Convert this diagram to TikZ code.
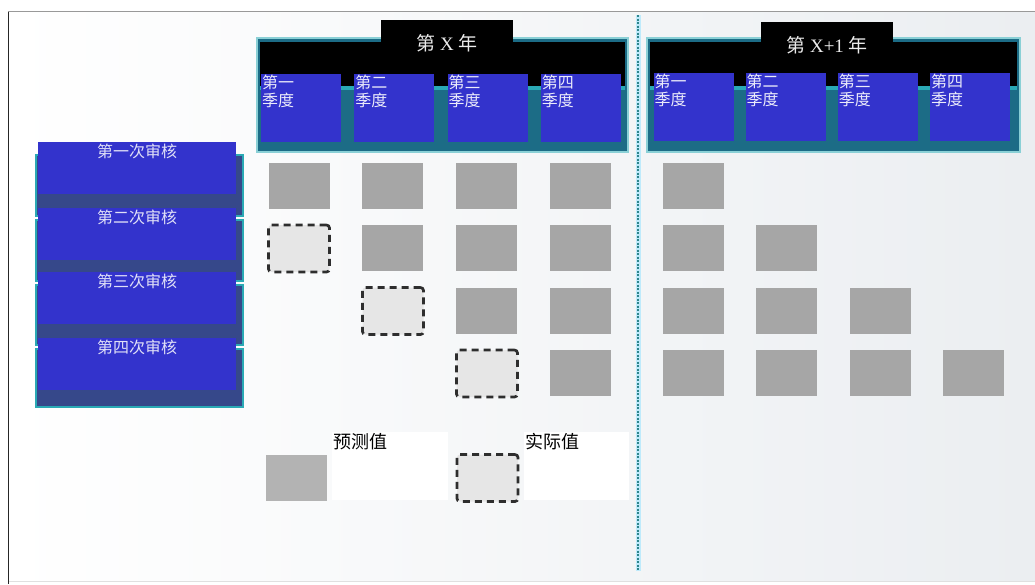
\documentclass[tikz,border=0pt]{standalone}
\usepackage{fontspec}
\setmainfont{Liberation Serif}
\newfontfamily\cjk{Noto Sans CJK SC}
\usetikzlibrary{positioning}
\definecolor{qblue}{HTML}{3333CC}
\definecolor{rowblue}{HTML}{36488A}
\definecolor{frameteal}{HTML}{2AA9B5}
\definecolor{hdrdark}{HTML}{1C6C86}
\definecolor{fcgray}{HTML}{A6A6A6}
\definecolor{leggray}{HTML}{B3B3B3}
\definecolor{actfill}{HTML}{E6E6E6}
\definecolor{dashgray}{HTML}{2E2E2E}
\definecolor{dotteal}{HTML}{3AA6AE}
\definecolor{bgright}{HTML}{EBEEF1}
\tikzset{
  qbox/.style={fill=qblue, minimum width=80pt, minimum height=68pt, inner sep=0pt},
  qlabel/.style={font=\cjk\fontsize{16}{18}\selectfont, text=white!90!qblue,
                 align=left, inner sep=1pt, anchor=north west},
  revbox/.style={fill=qblue, minimum width=198pt, minimum height=52pt, inner sep=0pt},
  revlabel/.style={font=\cjk\fontsize{16}{18}\selectfont, text=white!85!qblue,
                   inner sep=2pt, anchor=north},
  titlebox/.style={fill=black, text=white!92!black, minimum width=132pt,
                   minimum height=47pt, font=\fontsize{19}{21}\selectfont},
  fcast/.style={fill=fcgray, minimum width=61pt, minimum height=46pt, inner sep=0pt},
  actual/.style={fill=actfill, draw=dashgray, line width=2.7pt, dash pattern=on 7pt off 5pt,
                 rounded corners=3pt, minimum width=61pt, minimum height=47pt, inner sep=0pt},
  legbox/.style={fill=white, minimum height=68pt, inner sep=0pt},
  legtext/.style={font=\cjk\fontsize{18}{20}\selectfont, text=black, inner sep=1pt, anchor=north west}
}
\begin{document}
\begin{tikzpicture}[x=1pt,y=-1pt]
  \useasboundingbox (0,0) rectangle (1035,584);
  % page
  \shade[left color=white, middle color=white!96!black, right color=bgright] (9,12) rectangle (1035,581);
  \draw[black!85, line width=1.5pt] (8.5,11) -- (8.5,584);
  \draw[black!40, line width=1pt] (8,11.5) -- (1035,11.5);
  \draw[black!12, line width=1pt] (9,581.5) -- (1035,581.5);
  % divider
  \coordinate (divtop) at (638,15);
  \coordinate (divbot) at (638,571);
  \draw[cyan!25, line width=5pt] (divtop) -- (divbot);
  \draw[dotteal!80!black, line width=2.5pt, dash pattern=on 2pt off 1.5pt] (divtop) -- (divbot);
  % year headers
  \foreach \fx/\fy in {257/628, 647/1020}{%
    \filldraw[fill=hdrdark, draw=frameteal!55!white, line width=2pt] (\fx,38) rectangle (\fy,152);
    \fill[black] (\fx+3,42) rectangle (\fy-3,86);
    \fill[frameteal] (\fx+3,86) rectangle (\fy-3,90);
  }
  \node[titlebox] (yearX) at (447,43.5) {{\cjk 第}~X~{\cjk 年}\hspace{20pt}};
  \node[titlebox] (yearY) at (827,45) {{\cjk 第}~X+1~{\cjk 年}\hspace{4pt}};
  \foreach \q [count=\i] in {一,二,三,四}{%
    \node[qbox] (qX-\i) at ({301+(\i-1)*93.3},108) {};
    \node[qlabel] (qXl-\i) at (qX-\i.north west) {第\q\\季度};
    \node[qbox] (qY-\i) at ({693.5+(\i-1)*92.2},107) {};
    \node[qlabel] (qYl-\i) at (qY-\i.north west) {第\q\\季度};
  }
  % review rows
  \foreach \ra/\rb in {155/216, 220/281, 285/345, 349/407}{%
    \filldraw[fill=rowblue, draw=frameteal, line width=1.5pt] (36,\ra) rectangle (243,\rb);
  }
  \foreach \r [count=\i] in {一,二,三,四}{%
    \pgfmathparse{{168,234,298,364}[\i-1]}
    \node[revbox] (rev-\i) at (137,\pgfmathresult) {};
    \node[revlabel] (revl-\i) at (rev-\i.north) {第\r 次审核};
  }
  % forecasts and actuals
  \foreach \r in {1,...,4}{%
    \foreach \c in {\r,...,4}{%
      \node[fcast] (L-\r-\c) at ({299+(\c-1)*93.7},{186+(\r-1)*62.3}) {};
    }
    \foreach \c in {1,...,\r}{%
      \node[fcast] (R-\r-\c) at ({693.5+(\c-1)*93.3},{186+(\r-1)*62.3}) {};
    }
  }
  \foreach \r [count=\c] in {2,3,4}{%
    \node[actual] (A-\r) at ({299+(\c-1)*94},{186+(\r-1)*62.5}) {};
  }
  % legend
  \node[fcast, fill=leggray] (legF) at (296.5,478) {};
  \node[legbox, minimum width=116pt] (legFbox) at (390,466) {};
  \node[legtext] (legFtxt) at (legFbox.north west) {预测值};
  \node[actual] (legA) at (487.5,478) {};
  \node[legbox, minimum width=105pt] (legAbox) at (576.5,466) {};
  \node[legtext] (legAtxt) at (legAbox.north west) {实际值};
\end{tikzpicture}
\end{document}
